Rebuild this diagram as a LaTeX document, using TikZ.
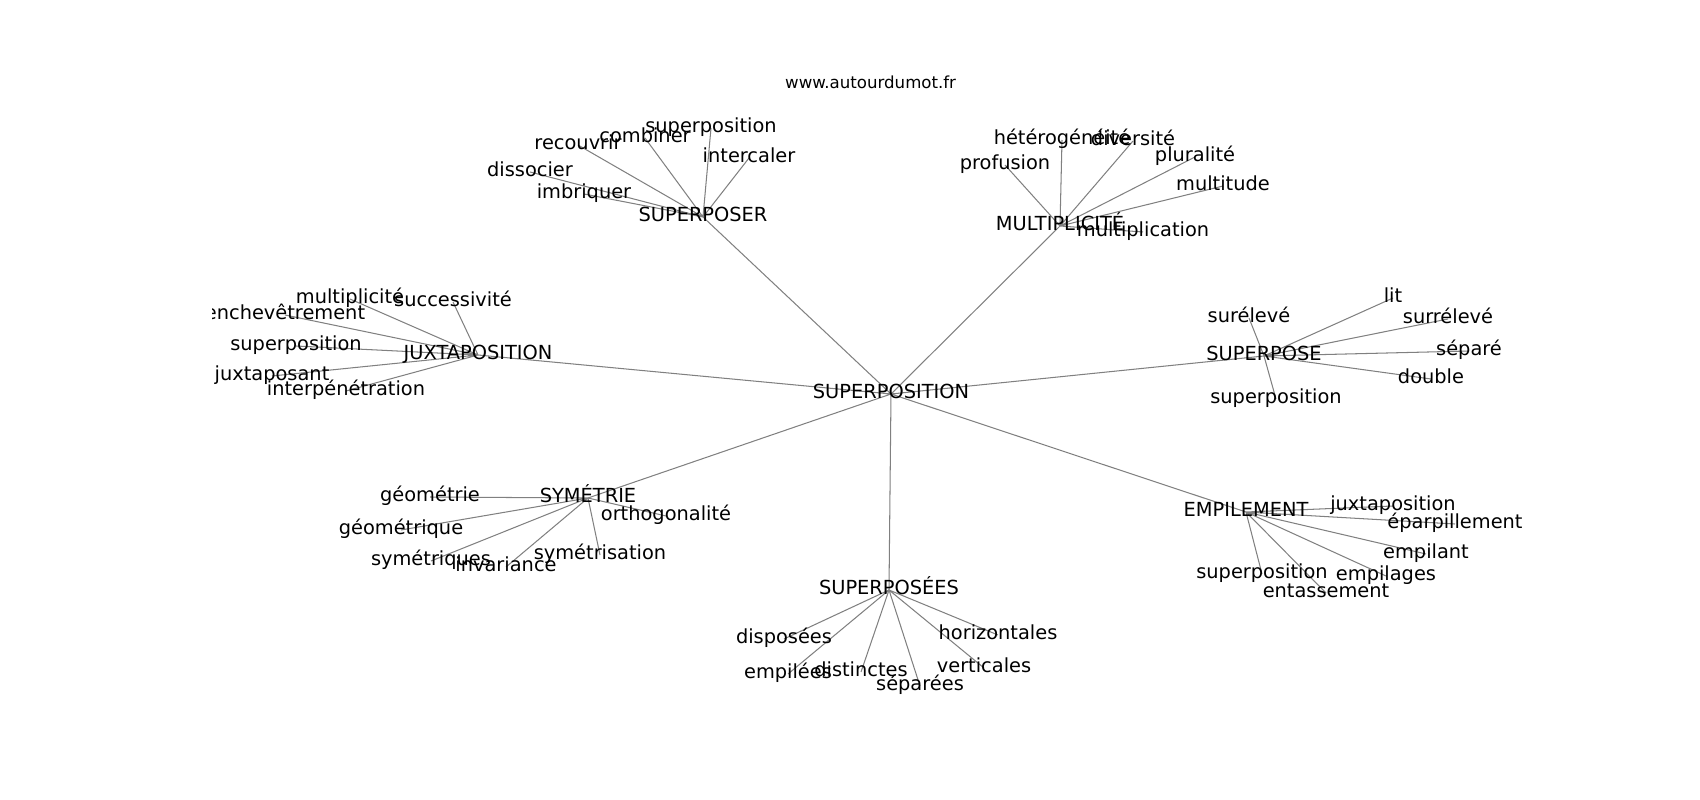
\documentclass[tikz,border=0pt]{standalone}
\usepackage{fontspec}
\setmainfont{DejaVu Sans}
\usetikzlibrary{backgrounds}

\begin{document}
\begin{tikzpicture}[x=0.01in,y=-0.01in,
  word/.style={font=\fontsize{14}{14}\selectfont,text height=0.86em,text depth=0.14em,inner sep=0pt},
  link/.style={gray,line width=0.75pt}]
\useasboundingbox (0,0) rectangle (1700,800);

\node[font=\fontsize{12}{12}\selectfont] (site) at (870.6,82) {www.autourdumot.fr};

\begin{scope}[shift={(0,2)}]
\clip (212.5,94) rectangle (1530,710);
\node[word] (superposition) at (891,392) {SUPERPOSITION};

% SUPERPOSER
\node[word] (superposer) at (703,215) {SUPERPOSER};
\node[word] (superposer-superposition) at (711,126) {superposition};
\node[word] (combiner) at (645,136) {combiner};
\node[word] (recouvrir) at (578,143) {recouvrir};
\node[word] (intercaler) at (749,156) {intercaler};
\node[word] (dissocier) at (530,170) {dissocier};
\node[word] (imbriquer) at (584,192) {imbriquer};

% MULTIPLICITE
\node[word] (multiplicite) at (1060,224) {MULTIPLICITÉ};
\node[word] (heterogeneite) at (1062,138) {hétérogénéité};
\node[word] (diversite) at (1133,139) {diversité};
\node[word] (profusion) at (1005,163) {profusion};
\node[word] (pluralite) at (1195,155) {pluralité};
\node[word] (multitude) at (1223,184) {multitude};
\node[word] (multiplication) at (1143,230) {multiplication};

% SUPERPOSE
\node[word] (superpose) at (1264,354) {SUPERPOSE};
\node[word] (sureleve) at (1249,316) {surélevé};
\node[word] (lit) at (1393,296) {lit};
\node[word] (surreleve) at (1448,317) {surrélevé};
\node[word] (separe) at (1469,349) {séparé};
\node[word] (double) at (1431,377) {double};
\node[word] (superpose-superposition) at (1276,397) {superposition};

% JUXTAPOSITION
\node[word] (juxtaposition) at (478,353) {JUXTAPOSITION};
\node[word] (juxta-multiplicite) at (350,297) {multiplicité};
\node[word] (successivite) at (453,300) {successivité};
\node[word] (enchevetrement) at (285,313) {enchevêtrement};
\node[word] (juxta-superposition) at (296,344) {superposition};
\node[word] (juxtaposant) at (272,374) {juxtaposant};
\node[word] (interpenetration) at (346,389) {interpénétration};

% SYMETRIE
\node[word] (symetrie) at (588,496) {SYMÉTRIE};
\node[word] (geometrie) at (430,495) {géométrie};
\node[word] (geometrique) at (401,528) {géométrique};
\node[word] (orthogonalite) at (666,514) {orthogonalité};
\node[word] (symetriques) at (431,559) {symétriques};
\node[word] (invariance) at (506,565) {invariance};
\node[word] (symetrisation) at (600,553) {symétrisation};

% SUPERPOSEES
\node[word] (superposees) at (889,588) {SUPERPOSÉES};
\node[word] (disposees) at (784,637) {disposées};
\node[word] (empilees) at (788,672) {empilées};
\node[word] (distinctes) at (861,670) {distinctes};
\node[word] (separees) at (920,684) {séparées};
\node[word] (horizontales) at (998,633) {horizontales};
\node[word] (verticales) at (984,666) {verticales};

% EMPILEMENT
\node[word] (empilement) at (1246,510) {EMPILEMENT};
\node[word] (empil-juxtaposition) at (1393,504) {juxtaposition};
\node[word] (eparpillement) at (1455,522) {éparpillement};
\node[word] (empilant) at (1426,552) {empilant};
\node[word] (empilages) at (1386,574) {empilages};
\node[word] (empil-superposition) at (1262,572) {superposition};
\node[word] (entassement) at (1326,591) {entassement};
\end{scope}

\begin{scope}[on background layer]
\draw[link] (superposition.center)--(superposer.center)
  (superposition.center)--(multiplicite.center)
  (superposition.center)--(superpose.center)
  (superposition.center)--(juxtaposition.center)
  (superposition.center)--(symetrie.center)
  (superposition.center)--(superposees.center)
  (superposition.center)--(empilement.center);

\draw[link] (superposer.center)--(superposer-superposition.center)
  (superposer.center)--(combiner.center)
  (superposer.center)--(recouvrir.center)
  (superposer.center)--(intercaler.center)
  (superposer.center)--(dissocier.center)
  (superposer.center)--(imbriquer.center);

\draw[link] (multiplicite.center)--(heterogeneite.center)
  (multiplicite.center)--(diversite.center)
  (multiplicite.center)--(profusion.center)
  (multiplicite.center)--(pluralite.center)
  (multiplicite.center)--(multitude.center)
  (multiplicite.center)--(multiplication.center);

\draw[link] (superpose.center)--(sureleve.center)
  (superpose.center)--(lit.center)
  (superpose.center)--(surreleve.center)
  (superpose.center)--(separe.center)
  (superpose.center)--(double.center)
  (superpose.center)--(superpose-superposition.center);

\draw[link] (juxtaposition.center)--(juxta-multiplicite.center)
  (juxtaposition.center)--(successivite.center)
  (juxtaposition.center)--(enchevetrement.center)
  (juxtaposition.center)--(juxta-superposition.center)
  (juxtaposition.center)--(juxtaposant.center)
  (juxtaposition.center)--(interpenetration.center);

\draw[link] (symetrie.center)--(geometrie.center)
  (symetrie.center)--(geometrique.center)
  (symetrie.center)--(orthogonalite.center)
  (symetrie.center)--(symetriques.center)
  (symetrie.center)--(invariance.center)
  (symetrie.center)--(symetrisation.center);

\draw[link] (superposees.center)--(disposees.center)
  (superposees.center)--(empilees.center)
  (superposees.center)--(distinctes.center)
  (superposees.center)--(separees.center)
  (superposees.center)--(horizontales.center)
  (superposees.center)--(verticales.center);

\draw[link] (empilement.center)--(empil-juxtaposition.center)
  (empilement.center)--(eparpillement.center)
  (empilement.center)--(empilant.center)
  (empilement.center)--(empilages.center)
  (empilement.center)--(empil-superposition.center)
  (empilement.center)--(entassement.center);
\end{scope}

\end{tikzpicture}
\end{document}
